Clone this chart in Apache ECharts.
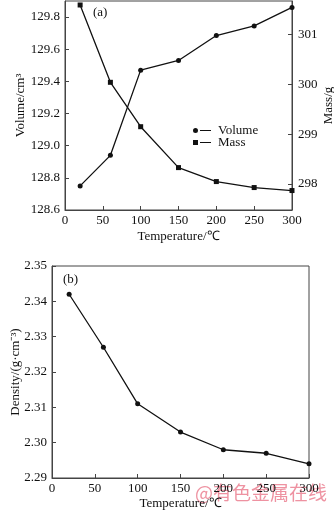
<!DOCTYPE html>
<html>
<head>
<meta charset="utf-8">
<script src="https://cdn.jsdelivr.net/npm/echarts@6/dist/echarts.min.js"></script>
<style>
  html, body { margin: 0; padding: 0; background: #fff; }
  #chart { width: 334px; height: 511px; }
</style>
</head>
<body>
<div id="chart"></div>
<script>
// Temperatures (°C) shared by both panels
const temperature = [20, 60, 100, 150, 200, 250, 300];
// Panel (a): volume (cm^3) and mass (g) versus temperature
const volume = [128.75, 128.94, 129.47, 129.53, 129.685, 129.745, 129.86];
const mass = [301.59, 300.04, 299.15, 298.33, 298.05, 297.93, 297.87];
// Panel (b): density (g·cm^-3) versus temperature
const density = [2.342, 2.327, 2.311, 2.303, 2.298, 2.297, 2.294];

const pairs = (xs, ys) => xs.map((x, i) => [x, ys[i]]);

const FONT = 'Liberation Serif';
const INK = '#111';
const FRAME = '#444';

const baseX = {
  type: 'value', min: 0, max: 300, interval: 50,
  axisLine: { show: true, lineStyle: { color: FRAME, width: 1 } },
  axisTick: { show: true, inside: true, length: 4, lineStyle: { color: FRAME } },
  axisLabel: { color: INK, fontFamily: FONT, fontSize: 13, margin: 4 },
  splitLine: { show: false },
  name: 'Temperature/\u2103', nameLocation: 'middle', nameGap: 20, nameMoveOverlap: false,
  nameTextStyle: { color: INK, fontFamily: FONT, fontSize: 13 }
};
const baseY = {
  type: 'value',
  axisLine: { show: true, lineStyle: { color: FRAME, width: 1 } },
  axisTick: { show: true, inside: true, length: 4, lineStyle: { color: FRAME } },
  axisLabel: { color: INK, fontFamily: FONT, fontSize: 13, margin: 5 },
  splitLine: { show: false },
  nameLocation: 'middle', nameMoveOverlap: false,
  nameTextStyle: { color: INK, fontFamily: FONT, fontSize: 13 }
};

const chart = echarts.init(document.getElementById('chart'), null, { renderer: 'canvas' });

// volume / mass legend icons: marker followed by a short dash
const circleDash = 'path://M0,3a2.5,2.5 0 1,0 5,0a2.5,2.5 0 1,0 -5,0Z M7,2.4H18V3.6H7Z';
const squareDash = 'path://M0,0.5H5V5.5H0Z M7,2.4H18V3.6H7Z';

chart.setOption({
  animation: false,
  backgroundColor: '#fff',
  textStyle: { fontFamily: FONT },
  grid: [
    { left: 65, right: 42, top: 1, bottom: 301, show: true, borderColor: FRAME, borderWidth: 1,
      containLabel: false, outerBoundsMode: 'none' },
    { left: 52, right: 25, top: 266, bottom: 33, show: true, borderColor: FRAME, borderWidth: 1,
      containLabel: false, outerBoundsMode: 'none' }
  ],
  title: [
    { text: '(a)', left: 88, top: 1, textStyle: { fontFamily: FONT, fontSize: 13, fontWeight: 'normal', color: INK } },
    { text: '(b)', left: 58, top: 268, textStyle: { fontFamily: FONT, fontSize: 13, fontWeight: 'normal', color: INK } }
  ],
  legend: {
    orient: 'vertical', left: 188, top: 119, itemGap: -1,
    itemWidth: 18, itemHeight: 6,
    textStyle: { fontFamily: FONT, fontSize: 13, color: INK, padding: [0, 0, 0, 2] },
    data: [
      { name: 'Volume', icon: circleDash },
      { name: 'Mass', icon: squareDash }
    ]
  },
  xAxis: [
    Object.assign({}, baseX, { gridIndex: 0 }),
    Object.assign({}, baseX, { gridIndex: 1, nameGap: 19 })
  ],
  yAxis: [
    Object.assign({}, baseY, {
      gridIndex: 0, min: 128.6, max: 129.9, interval: 0.2,
      name: 'Volume/cm\u00b3', nameGap: 38,
      axisLabel: Object.assign({}, baseY.axisLabel, {
        showMaxLabel: false,
        formatter: v => v.toFixed(1)
      })
    }),
    Object.assign({}, baseY, {
      gridIndex: 0, position: 'right', min: 297.48, max: 301.67,
      name: 'Mass/g', nameGap: 30, nameRotate: 90,
      axisLabel: Object.assign({}, baseY.axisLabel, {
        margin: 6,
        formatter: v => (Math.abs(v - Math.round(v)) < 1e-6 ? String(Math.round(v)) : '')
      }),
      axisTick: Object.assign({}, baseY.axisTick, {
        customValues: [298, 299, 300, 301]
      })
    }),
    Object.assign({}, baseY, {
      gridIndex: 1, min: 2.29, max: 2.35, interval: 0.01,
      name: 'Density/(g\u00b7cm\u207b\u00b3)', nameGap: 30,
      axisLabel: Object.assign({}, baseY.axisLabel, { formatter: v => v.toFixed(2) })
    })
  ],
  series: [
    {
      name: 'Volume', type: 'line', xAxisIndex: 0, yAxisIndex: 0,
      data: pairs(temperature, volume),
      symbol: 'circle', symbolSize: 5,
      lineStyle: { color: INK, width: 1.3 }, itemStyle: { color: INK }
    },
    {
      name: 'Mass', type: 'line', xAxisIndex: 0, yAxisIndex: 1,
      data: pairs(temperature, mass),
      symbol: 'rect', symbolSize: 5,
      lineStyle: { color: INK, width: 1.3 }, itemStyle: { color: INK }
    },
    {
      name: 'Density', type: 'line', xAxisIndex: 1, yAxisIndex: 2,
      data: pairs(temperature, density),
      symbol: 'circle', symbolSize: 5,
      lineStyle: { color: INK, width: 1.3 }, itemStyle: { color: INK }
    }
  ],
  graphic: [
    {
      type: 'text', left: 195, top: 483, silent: true,
      style: {
        text: '@\u6709\u8272\u91d1\u5c5e\u5728\u7ebf',
        font: '19px "Noto Sans CJK SC"',
        fill: 'rgba(232, 110, 130, 0.75)'
      }
    }
  ]
});
</script>
</body>
</html>
